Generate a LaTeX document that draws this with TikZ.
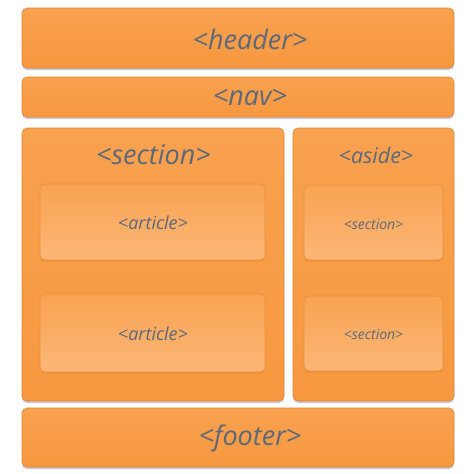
\documentclass[tikz,border=0pt]{standalone}
\usepackage{fontspec}
\setmainfont{Open Sans}
\usetikzlibrary{shadows}
\definecolor{txt}{HTML}{5B697C}
\definecolor{outerfill}{HTML}{F7983F}
\definecolor{outertop}{HTML}{F8A14F}
\definecolor{outerline}{HTML}{E08535}
\definecolor{innertop}{HTML}{F9A352}
\definecolor{innerbot}{HTML}{FBB777}
\definecolor{innerline}{HTML}{E8913F}
\begin{document}
\begin{tikzpicture}[x=1pt,y=-1pt,
  outerbox/.style={draw=outerline, line width=0.6pt, rounded corners=5pt,
    top color=outertop, bottom color=outerfill, inner sep=0pt,
    drop shadow={opacity=0.35, shadow xshift=0pt, shadow yshift=-2pt, fill=gray!80!blue}},
  innerbox/.style={draw=innerline, line width=0.6pt, rounded corners=5pt,
    top color=innertop, bottom color=innerbot, inner sep=0pt,
    drop shadow={opacity=0.5, shadow xshift=0pt, shadow yshift=-1.5pt, fill=orange!70!brown}},
  lbl/.style={text=txt, font=\itshape, inner sep=0pt},
  biglbl/.style={lbl, font=\itshape\fontsize{27}{30}\selectfont}]
\useasboundingbox[fill=white] (0,0) rectangle (474,474);
% outer boxes
\node[outerbox, minimum width=432pt, minimum height=60pt] (header) at (238,38) {};
\node[outerbox, minimum width=432pt, minimum height=40pt] (nav) at (238,97) {};
\node[outerbox, minimum width=262pt, minimum height=273pt] (section) at (153,264.5) {};
\node[outerbox, minimum width=161pt, minimum height=273pt] (aside) at (373.5,264.5) {};
\node[outerbox, minimum width=432pt, minimum height=59pt] (footer) at (238,437.5) {};
% inner boxes
\node[innerbox, minimum width=225pt, minimum height=76pt] (art1) at (152.5,222) {};
\node[innerbox, minimum width=225pt, minimum height=78pt] (art2) at (152.5,333) {};
\node[innerbox, minimum width=139pt, minimum height=75pt] (asec1) at (373.5,222.5) {};
\node[innerbox, minimum width=139pt, minimum height=75pt] (asec2) at (373.5,333.5) {};
% labels
\node[biglbl] (headerlbl) at (250,39) {<header>};
\node[biglbl] (navlbl) at (250,97) {<nav>};
\node[biglbl] (sectionlbl) at (153.5,155) {<section>};
\node[lbl, font=\itshape\fontsize{21.5}{24}\selectfont] (asidelbl) at (376,155) {<aside>};
\node[biglbl] (footerlbl) at (250,438) {<footer>};
\node[lbl, font=\itshape\fontsize{18}{20}\selectfont] (art1lbl) at (153,223) {<article>};
\node[lbl, font=\itshape\fontsize{18}{20}\selectfont] (art2lbl) at (153,334) {<article>};
\node[lbl, font=\itshape\fontsize{14}{16}\selectfont] (asec1lbl) at (373.5,224) {<section>};
\node[lbl, font=\itshape\fontsize{14}{16}\selectfont] (asec2lbl) at (373.5,334) {<section>};
\end{tikzpicture}
\end{document}
